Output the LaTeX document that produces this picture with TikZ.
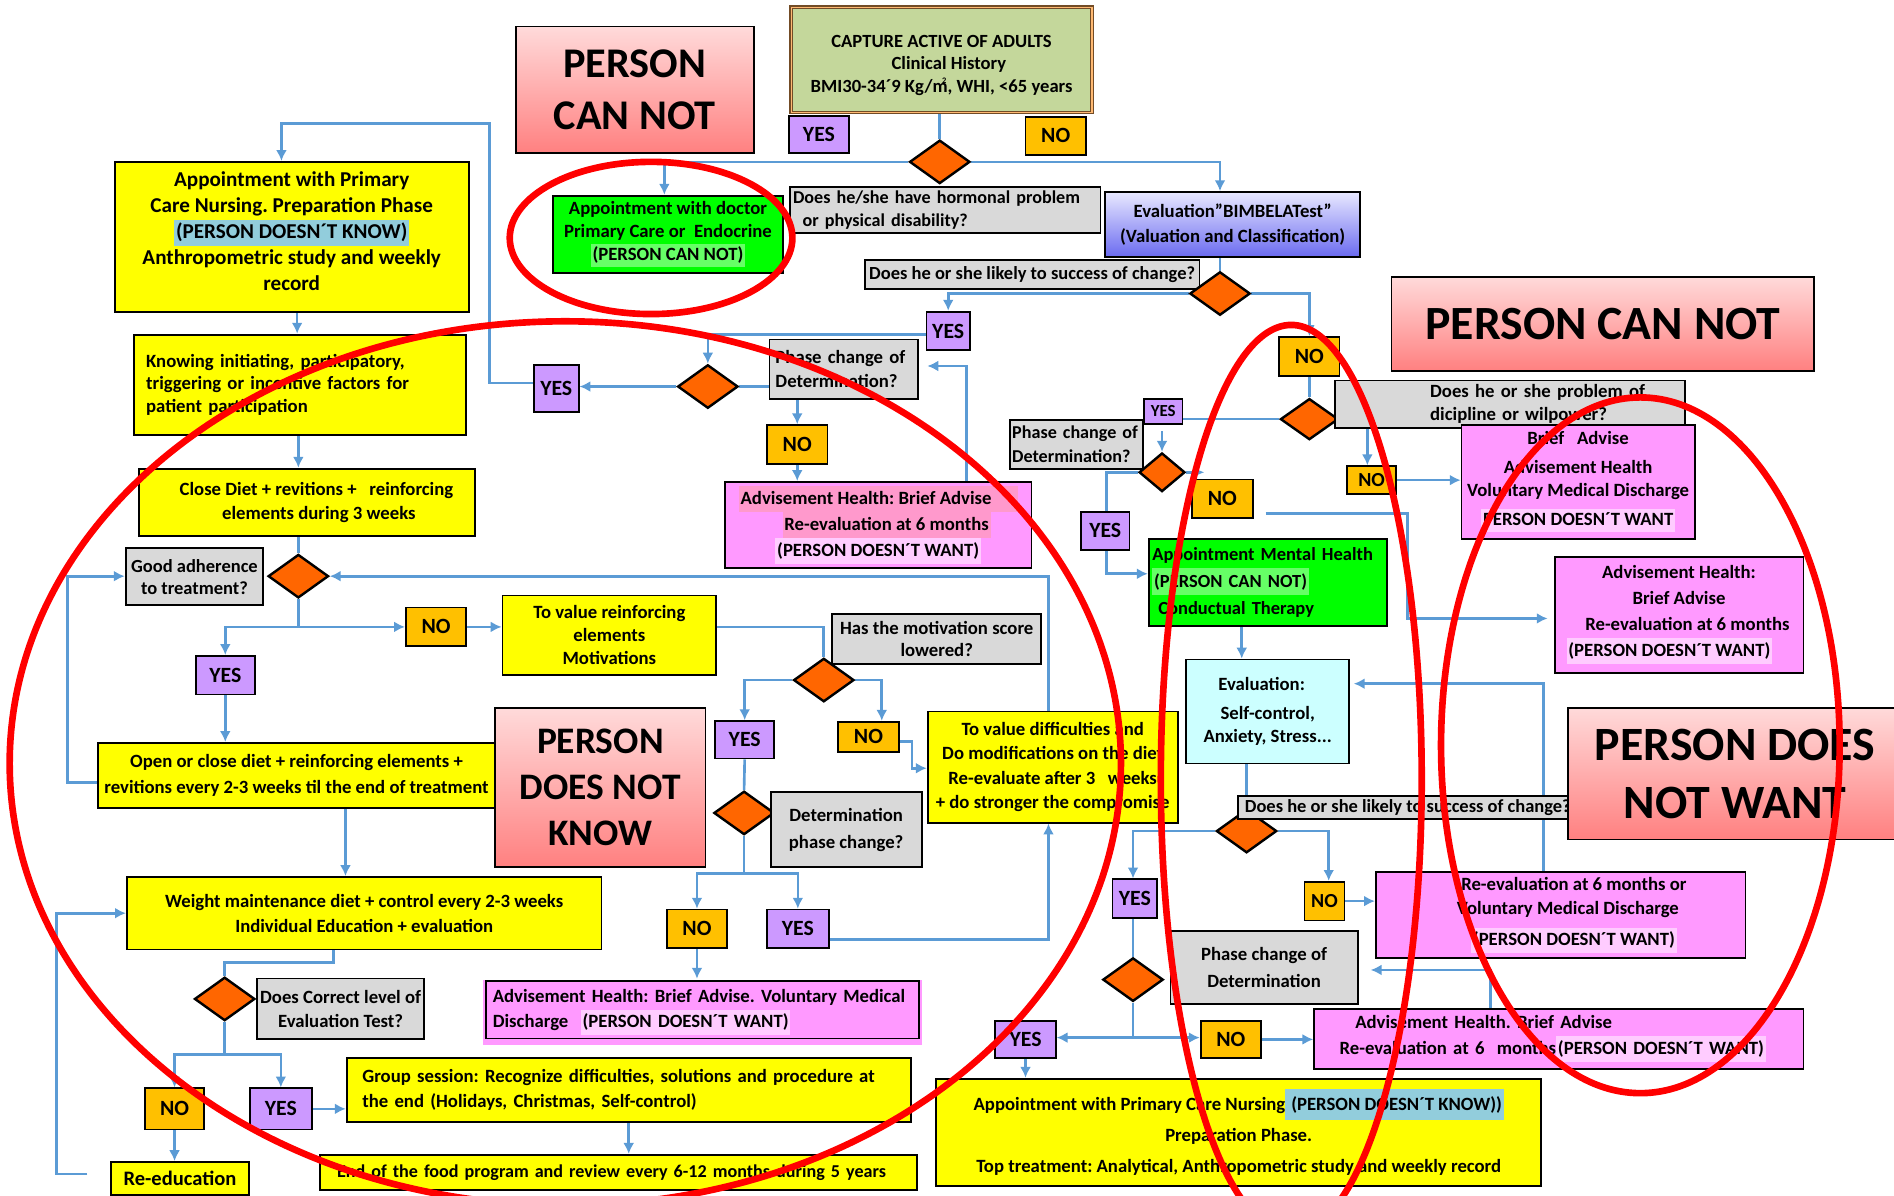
\documentclass[tikz,border=0pt]{standalone}
\usepackage{fontspec}
\setmainfont{Carlito}
\usetikzlibrary{shapes.geometric,arrows.meta,calc}
\definecolor{cline}{HTML}{5B9BD5}
\definecolor{cyel}{HTML}{FFFF00}
\definecolor{cyes}{HTML}{CC99FF}
\definecolor{cno}{HTML}{FFC000}
\definecolor{cgray}{HTML}{D9D9D9}
\definecolor{cpink}{HTML}{FF99FF}
\definecolor{chlpink}{HTML}{FFCCFF}
\definecolor{chlrose}{HTML}{FF99CC}
\definecolor{chlblue}{HTML}{92CDDC}
\definecolor{cgreen}{HTML}{00FF00}
\definecolor{chlgreen}{HTML}{66FF66}
\definecolor{ccyan}{HTML}{CCFFFF}
\definecolor{colive}{HTML}{C4D79B}
\definecolor{cdiam}{HTML}{FF6600}
\definecolor{cred}{HTML}{FF0000}
\definecolor{cpktop}{HTML}{FFDADA}
\definecolor{cpkbot}{HTML}{FF8080}
\definecolor{cbtop}{HTML}{E8E8FF}
\definecolor{cbbot}{HTML}{6A6AF0}
\newcommand\fsz[2]{\fontsize{#1}{#2}\selectfont\bfseries\frenchspacing}
\newcommand\hlt[2]{{\fboxsep=0pt\colorbox{#1}{\strut\kern1.5pt #2\kern1.5pt}}}
\pgfdeclarelayer{bg}
\pgfdeclarelayer{fg}
\pgfsetlayers{bg,main,fg}
\tikzset{
  box/.style={draw=black, line width=1.5pt, inner sep=0pt, align=center, font={\fsz{15.5}{19}}},
  ybox/.style={box, fill=cyel},
  gbox/.style={box, fill=cgray},
  pbox/.style={box, fill=cpink},
  pers/.style={box, top color=cpktop, bottom color=cpkbot},
  yesb/.style={box, fill=cyes, font={\fsz{18}{19}}},
  nob/.style={box, fill=cno, font={\fsz{18}{19}}},
  dia/.style={diamond, draw=black, line width=2pt, fill=cdiam, minimum width=50pt, minimum height=36pt, inner sep=0pt},
  conn/.style={draw=cline, line width=2.2pt},
  arr/.style={conn, -{Latex[length=9pt,width=9pt]}},
  redring/.style={draw=cred, line width=5.5pt}
}
\begin{document}
\begin{tikzpicture}[x=1pt,y=-1pt]
\useasboundingbox (0,0) rectangle (1568,990);
\clip (0,0) rectangle (1568,990);
% ---------------- top
\node[pers, minimum width=197pt, minimum height=105pt, font={\fsz{35}{43}}] (pcn1) at (525.5,74.5) {PERSON\\CAN NOT};
\node[box, fill=colive, draw=brown!60!black, line width=1pt, double=orange!55, double distance=1pt, minimum width=249pt, minimum height=87pt, font={\fsz{15.4}{18.5}}] (capture) at (779.5,49.5)
  {\rule{0pt}{19pt}CAPTURE ACTIVE OF ADULTS\\\hspace*{12pt}Clinical History\\BMI30-34´9 Kg/m\llap{\raisebox{0.45em}{\fontsize{7}{7}\selectfont 2}\kern1pt}, WHI, <65 years};
\node[yesb, minimum width=50pt, minimum height=31pt] (yes1) at (678,111.5) {YES};
\node[nob, minimum width=50pt, minimum height=31pt] (no1) at (874,112.5) {NO};
\node[dia] (d1) at (778,134) {};
\node[box, fill=cgreen, minimum width=190pt, minimum height=64pt, font={\fsz{15.5}{19}}] (doctor) at (553,194)
  {Appointment with doctor\\Primary Care or\ \ Endocrine\\\hlt{chlgreen}{(PERSON CAN NOT)}};
\node[gbox, minimum width=257pt, minimum height=38pt, text width=252pt, align=left, font={\fsz{15}{19}}] (hormon) at (782.5,174)
  {Does he/she have hormonal problem\\\hspace*{8pt}or physical disability?};
\node[box, top color=cbtop, bottom color=cbbot, minimum width=211pt, minimum height=54pt, font={\fsz{15.5}{21}}] (bimbela) at (1020.5,186)
  {Evaluation”BIMBELATest”\\(Valuation and Classification)};
\node[gbox, minimum width=277pt, minimum height=24pt, font={\fsz{15.3}{16}}] (likely1) at (854.5,227) {Does he or she likely to success of change?};
\node[dia] (d2) at (1010,243) {};
\node[yesb, minimum width=36pt, minimum height=32pt] (yes2) at (785,274) {YES};
\node[nob, minimum width=50pt, minimum height=32pt] (no2) at (1084,295) {NO};
\node[pers, minimum width=350pt, minimum height=78pt, font={\fsz{39.5}{44}}] (pcn2) at (1327,268) {PERSON CAN NOT};
% ---------------- left column
\node[ybox, minimum width=293pt, minimum height=124pt, font={\fsz{17.5}{21.5}}] (appL) at (241.5,196)
  {Appointment with Primary\\Care Nursing. Preparation Phase\\\hlt{chlblue}{(PERSON DOESN´T KNOW)}\\Anthropometric study and weekly\\record\\[-11.5pt]};
\node[gbox, minimum width=123pt, minimum height=49pt, text width=113pt, align=left, font={\fsz{15.5}{20}}] (phase1) at (698.5,305.5) {Phase change of\\Determination?};
\node[dia] (d3) at (586,320) {};
\node[yesb, minimum width=37pt, minimum height=39pt] (yes3) at (460.5,321.5) {YES};
\node[nob, minimum width=50pt, minimum height=32pt] (no3) at (660,368) {NO};
\node[pbox, minimum width=254pt, minimum height=71pt, font={\fsz{15.5}{21.5}}] (pinkA) at (727,434.5)
  {\hlt{chlrose}{Advisement Health: Brief Advise\hspace{20pt}}\\\hspace*{14pt}\hlt{chlrose}{Re-evaluation at 6 months}\\\hlt{chlpink}{(PERSON DOESN´T WANT)}};
\node[ybox, text width=255pt, inner xsep=10pt, minimum height=83pt, align=left, font={\fsz{15.5}{18.5}}] (knowing) at (248.5,318.5)
  {Knowing initiating, participatory,\\triggering or incentive factors for\\patient participation};
\node[ybox, minimum width=278pt, minimum height=56pt, font={\fsz{15.5}{19.5}}] (close) at (254,416)
  {\hspace*{16pt}Close Diet + revitions +\ \ \ reinforcing\\\hspace*{20pt}elements during 3 weeks};
\node[gbox, minimum width=114pt, minimum height=47pt, font={\fsz{15.3}{18}}] (good) at (161,477.5) {Good adherence\\to treatment?};
\node[dia] (d4) at (247,477) {};
\node[yesb, minimum width=49pt, minimum height=32pt] (yes4) at (186.5,559) {YES};
\node[nob, minimum width=50pt, minimum height=32pt] (no4) at (361,519) {NO};
\node[ybox, minimum width=177pt, minimum height=66pt, font={\fsz{15.5}{19}}] (reinf) at (504.5,526) {To value reinforcing\\elements\\Motivations};
\node[gbox, minimum width=173pt, minimum height=42pt, font={\fsz{15.5}{19}}] (motiv) at (775.5,529) {Has the motivation score\\lowered?};
\node[dia] (d5) at (682,563) {};
\node[yesb, minimum width=49pt, minimum height=31pt] (yes5) at (616.5,612.5) {YES};
\node[nob, minimum width=50pt, minimum height=25pt] (no5) at (719,610) {NO};
\node[ybox, minimum width=207pt, minimum height=92pt, font={\fsz{15.5}{20}}] (diff) at (871.5,635)
  {To value difficulties and\\Do modifications on the diet\\Re-evaluate after 3\ \ \ weeks\\+ do stronger the compromise};
\node[pers, minimum width=174pt, minimum height=132pt, font={\fsz{31}{38}}] (pdnk) at (497,652) {PERSON\\DOES NOT\\KNOW};
\node[ybox, minimum width=329pt, minimum height=54pt, font={\fsz{15.5}{21}}] (open) at (245.5,642)
  {Open or close diet + reinforcing elements +\\revitions every 2-3 weeks til the end of treatment};
\node[dia] (d7) at (616,673) {};
\node[gbox, minimum width=125pt, minimum height=62pt, font={\fsz{15.5}{22}}] (detph) at (700.5,687) {Determination\\phase change?};
\node[nob, minimum width=50pt, minimum height=32pt] (no7) at (577,769) {NO};
\node[yesb, minimum width=51pt, minimum height=32pt] (yes7) at (660.5,769) {YES};
\node[box, draw=none, fill=cpink, text width=347pt, inner xsep=8pt, minimum height=54pt, align=left, font={\fsz{15.5}{21}}] (pinkB) at (581.5,838)
  {Advisement Health: Brief Advise. Voluntary Medical\\Discharge\ \ \hlt{chlpink}{(PERSON DOESN´T WANT)}};
\draw[line width=1.5pt] ([shift={(3,2)}]pinkB.north west) rectangle ([shift={(-3,-6)}]pinkB.south east);
\node[ybox, minimum width=393pt, minimum height=60pt, font={\fsz{15.5}{21}}] (weight) at (301.5,756)
  {Weight maintenance diet + control every 2-3 weeks\\Individual Education + evaluation};
\node[dia] (d6) at (186,827) {};
\node[gbox, minimum width=138pt, minimum height=50pt, font={\fsz{15.5}{20}}] (correct) at (282,835) {Does Correct level of\\Evaluation Test?};
\node[nob, minimum width=49pt, minimum height=34pt] (no6) at (144.5,918) {NO};
\node[yesb, minimum width=51pt, minimum height=34pt] (yes6) at (232.5,918) {YES};
\node[ybox, minimum width=114pt, minimum height=27pt, font={\fsz{17}{18}}] (reedu) at (149,975.5) {Re-education};
\node[ybox, text width=441pt, inner xsep=13pt, minimum height=53pt, align=left, font={\fsz{15.5}{21}}] (group) at (520.5,902.5)
  {Group session: Recognize difficulties, solutions and procedure at\\the end (Holidays, Christmas, Self-control)};
\node[ybox, text width=466pt, inner xsep=14pt, minimum height=29pt, align=left, font={\fsz{15}{16}}] (endfood) at (512,970.5)
  {End of the food program and review every 6-12 months during 5 years};
% ---------------- right column
\node[dia, minimum width=48pt, minimum height=34pt] (d8) at (1084,347) {};
\node[gbox, text width=270pt, inner xsep=10pt, minimum height=39pt, align=left, font={\fsz{15.5}{19}}] (problem) at (1250,334.5)
  {\hspace*{69pt}Does he or she problem of\\\hspace*{69pt}dicipline or wilpower?};
\node[yesb, minimum width=32pt, minimum height=21pt, font={\fsz{14}{15}}] (yes8) at (963,340.5) {YES};
\node[gbox, text width=106pt, inner xsep=2pt, minimum height=40pt, align=left, font={\fsz{15}{20}}] (phase2q) at (891,368) {Phase change of\\Determination?};
\node[dia, minimum width=38pt, minimum height=32pt] (d9) at (962,391) {};
\node[yesb, minimum width=40pt, minimum height=31pt] (yes9) at (915,439.5) {YES};
\node[nob, minimum width=50pt, minimum height=32pt] (no9) at (1012,413) {NO};
\node[nob, minimum width=41pt, minimum height=23pt, font={\fsz{16.5}{17}}] (no8) at (1135.5,397.5) {NO};
\node[pbox, minimum width=193pt, minimum height=94pt, font={\fsz{15.5}{19}}] (brief) at (1306.5,399)
  {Brief\ \ \ Advise\\[5pt]Advisement Health\\Voluntary Medical Discharge\\[5pt]\hlt{chlpink}{PERSON DOESN´T WANT}};
\node[pbox, minimum width=206pt, minimum height=96pt, font={\fsz{15.5}{21.5}}] (advR) at (1390,509)
  {Advisement Health:\\Brief Advise\\\hspace*{14pt}Re-evaluation at 6 months\\\hlt{chlpink}{(PERSON DOESN´T WANT)}\hspace*{16pt}};
\node[box, fill=cgreen, text width=191pt, inner xsep=3pt, minimum height=72pt, align=left, font={\fsz{15.3}{22.5}}] (mental) at (1049.5,482)
  {Appointment Mental Health\\\hlt{chlgreen}{(PERSON CAN NOT)}\\\hspace*{5pt}Conductual Therapy};
\node[box, fill=ccyan, minimum width=135pt, minimum height=86pt, font={\fsz{15.5}{19}}] (evalc) at (1049.5,589)
  {\hspace*{-10pt}Evaluation:\\[5pt]Self-control,\\Anxiety, Stress...};
\node[dia] (d10) at (1032,688) {};
\node[gbox, minimum width=281pt, minimum height=19pt, font={\fsz{15.3}{15}}] (likely2) at (1165.5,668.5) {Does he or she likely to success of change?};
\node[pers, minimum width=277pt, minimum height=109pt, font={\fsz{39.6}{48}}] (pdnw) at (1436.5,640.5) {PERSON DOES\\NOT WANT};
\node[yesb, minimum width=37pt, minimum height=32pt] (yes10) at (939.5,744) {YES};
\node[nob, minimum width=33pt, minimum height=32pt, font={\fsz{16.5}{17}}] (no10) at (1096.5,746) {NO};
\node[pbox, minimum width=306pt, minimum height=71pt, font={\fsz{15.5}{20.5}}] (reeval) at (1292,757.5)
  {\hspace*{22pt}Re-evaluation at 6 months or\\\hspace*{12pt}Voluntary Medical Discharge\\[5pt]\hspace*{22pt}\hlt{chlpink}{(PERSON DOESN´T WANT)}};
\node[dia] (d11) at (938,811) {};
\node[gbox, minimum width=155pt, minimum height=60pt, font={\fsz{15.5}{22}}] (phase3) at (1046.5,801) {Phase change of\\Determination};
\node[yesb, minimum width=50pt, minimum height=31pt] (yes11) at (849,860.5) {YES};
\node[nob, minimum width=50pt, minimum height=31pt] (no11) at (1019,860.5) {NO};
\node[pbox, text width=385pt, inner xsep=10pt, minimum height=50pt, align=left, font={\fsz{15.5}{21.5}}] (advB) at (1290.5,860)
  {\hspace*{24pt}Advisement Health. Brief Advise\\\hspace*{11pt}Re-evaluation at 6\ \ months\hlt{chlpink}{(PERSON DOESN´T WANT)}};
\node[ybox, minimum width=501pt, minimum height=89pt, font={\fsz{15.5}{25.5}}] (appB) at (1025.5,937.5)
  {Appointment with Primary Care Nursing\hlt{chlblue}{\ (PERSON DOESN´T KNOW))}\\Preparation Phase.\\Top treatment: Analytical, Anthropometric study and weekly record};
% ---------------- connectors
\coordinate (j4) at (247,519);
\coordinate (j7) at (616,723);
\coordinate (j6) at (186,873);
\coordinate (j11) at (938,859);
\coordinate (f9) at (962,357);
\coordinate (f9b) at (997,391);
\begin{pgfonlayer}{bg}
\draw[conn] (d1.north |- capture.south) -- (d1.north);
\draw[arr] (d1.west) -| ([xshift=-3pt]doctor.north);
\draw[arr] (d1.east) -| ([xshift=-10.5pt]bimbela.north);
\draw[conn] (d2.north |- bimbela.south) -- (d2.north);
\draw[arr] (d2.west) -| (yes2.north);
\draw[arr] (d2.east) -| (no2.north);
\draw[arr] ([yshift=-3pt]yes2.west) -| (d3.north);
\draw[arr] (d3.west) -- (d3.west -| yes3.east);
\draw[arr] ([yshift=4.5pt]yes3.west) -- (405,317) -- (405,102) -| ([xshift=-8.5pt]appL.north);
\draw[arr] (d3.east) -| (no3.north);
\draw[arr] (no3.south) -- (no3.south |- pinkA.north);
\draw[arr, shorten >=7pt] ([xshift=73pt]pinkA.north) |- ([yshift=2.5pt]phase1.east);
\draw[arr] ([xshift=4.5pt]appL.south) -- ([xshift=4.5pt]appL.south |- knowing.north);
\draw[arr] ([xshift=-1.5pt]knowing.south) -- ([xshift=-1.5pt]knowing.south |- close.north);
\draw[conn] (d4.north |- close.south) -- (d4.north);
\draw[arr] ([xshift=-3.5pt]diff.north) |- (d4.east);
\draw[conn] (d4.south) -- (j4);
\draw[arr] (j4) -- (no4.west);
\draw[arr] (j4) -| (yes4.north);
\draw[arr] (no4.east) -- (reinf.west |- no4.east);
\draw[conn] ([yshift=7pt]reinf.east) -| (d5.north);
\draw[arr] (d5.west) -| (yes5.north);
\draw[arr] (d5.east) -| ([xshift=11pt]no5.north);
\draw[arr] ([yshift=-4pt]no5.east) -| (755,636) -- ([yshift=-1pt]diff.west);
\draw[arr] (yes4.south) -- (yes4.south |- open.north);
\draw[arr] ([yshift=-6pt]open.west) -| (56,477) -- ([yshift=0.5pt]good.west);
\draw[arr] ([xshift=40.5pt]open.south) -- ([xshift=40.5pt]open.south |- weight.north);
\draw[conn] (yes5.south) -- (d7.north);
\draw[conn] (d7.south) -- (j7);
\draw[arr] (j7) -| (no7.north);
\draw[arr] (j7) -| (yes7.north);
\draw[arr] (no7.south) -- (no7.south |- pinkB.north);
\draw[arr] ([yshift=-9pt]yes7.east) -| ([xshift=-3.5pt]diff.south);
\draw[conn] ([xshift=-25.5pt]weight.south) |- (186,797) -- (d6.north);
\draw[conn] (d6.south) -- (j6);
\draw[arr] (j6) -| (no6.north);
\draw[arr] (j6) -| (yes6.north);
\draw[arr] (no6.south) -- (no6.south |- reedu.north);
\draw[arr] (yes6.east) -- (group.west |- yes6.east);
\draw[arr] (group.south) -- (group.south |- endfood.north);
\draw[arr] ([xshift=-19pt,yshift=3.5pt]reedu.west) -| (47,756) -- (weight.west);
% right
\draw[conn] (no2.south) -- (d8.north);
\draw[conn] (d8.west) -- (d8.west -| yes8.east);
\draw[arr] (f9) -- (d9.north);
\draw[arr] (d9.west) -| (916,475) -- ([yshift=7pt]mental.west);
\draw[arr] (d9.east) -- (f9b);
\draw[arr, shorten >=5pt] ([xshift=10pt,yshift=-12pt]no9.east) -| (1165,512) -- ([yshift=-3pt]advR.west);
\draw[arr] (d8.east) -| ([xshift=-3.5pt]no8.north);
\draw[arr] (no8.east) -- (no8.east -| brief.west);
\draw[arr] ([xshift=-21.5pt]mental.south) -- ([xshift=-21.5pt]mental.south |- evalc.north);
\draw[arr, shorten >=3pt] ([xshift=-14pt]reeval.north) |- ([yshift=23pt]evalc.east);
\draw[conn] ([xshift=-17.5pt]evalc.south) -- (d10.north);
\draw[arr] (d10.west) -| ([xshift=-1.5pt]yes10.north);
\draw[arr] (d10.east) -| ([xshift=3.5pt]no10.north);
\draw[arr] (no10.east) -- (no10.east -| reeval.west);
\draw[conn] ([xshift=-1.5pt]yes10.south) -- (d11.north);
\draw[conn] (d11.south) -- (j11);
\draw[arr] (j11) -- (yes11.east |- j11);
\draw[arr] (j11) -- (no11.west |- j11);
\draw[arr] (no11.east) -- (no11.east -| advB.west);
\draw[arr, shorten >=10pt] ([xshift=-56.5pt]advB.north) |- ([yshift=-2pt]phase3.east);
\draw[arr] (yes11.south) -- (yes11.south |- appB.north);
\end{pgfonlayer}
% ---------------- red rings
\begin{pgfonlayer}{fg}
\draw[redring] (539,197) ellipse [x radius=117pt, y radius=63pt];
\draw[redring] (468,632) ellipse [x radius=460pt, y radius=366pt];
\draw[redring] (1069,645) ellipse [x radius=108pt, y radius=376pt];
\draw[redring] (1358,617) ellipse [x radius=165pt, y radius=288pt];
\end{pgfonlayer}
\end{tikzpicture}
\end{document}
